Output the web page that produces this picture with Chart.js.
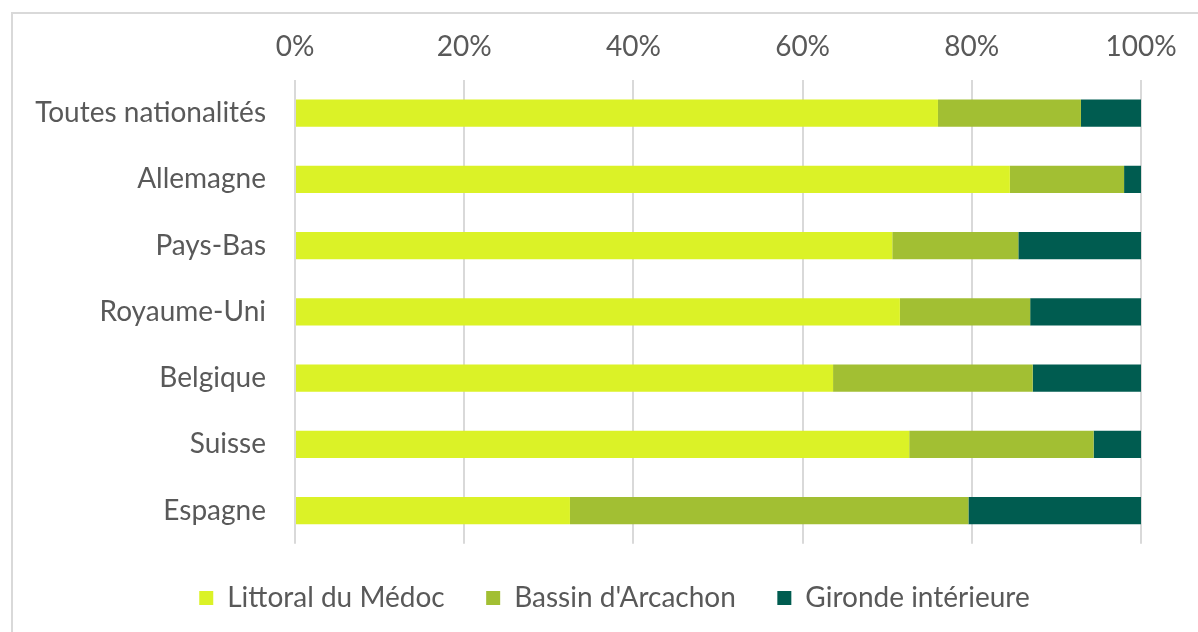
<!DOCTYPE html>
<html>
<head>
<meta charset="utf-8">
<script src="https://cdn.jsdelivr.net/npm/chart.js@4/dist/chart.umd.min.js"></script>
<style>
    html, body { margin: 0; padding: 0; background: #fff; overflow: hidden; }
    #frame { position: absolute; left: 11px; top: 12px; width: 1200px; height: 640px;
             border-left: 2px solid #d9d9d9; border-top: 2px solid #d9d9d9; }
    #wrap { position: absolute; left: 0; top: 0; width: 1198px; height: 632px; }
</style>
</head>
<body>
<div id="frame"></div>
<div id="wrap"><canvas id="chart"></canvas></div>
<script>
// Répartition des nuitées par zone, selon la nationalité
const categories = ['Toutes nationalités', 'Allemagne', 'Pays-Bas', 'Royaume-Uni', 'Belgique', 'Suisse', 'Espagne'];
const medoc = [76.0, 84.5, 70.6, 71.5, 63.6, 72.6, 32.5];
const arcachon = [16.9, 13.5, 14.9, 15.4, 23.6, 21.8, 47.1];
const gironde = [7.1, 2.0, 14.5, 13.1, 12.8, 5.6, 20.4];
const xTicks = [0, 20, 40, 60, 80, 100];

const textColor = '#595959';
const fontFamily = 'Lato, "Open Sans", sans-serif';
const fontSize = 28;

const ctx = document.getElementById('chart').getContext('2d');
new Chart(ctx, {
    type: 'bar',
    data: {
        labels: categories,
        datasets: [
            { label: 'Littoral du Médoc', data: medoc, backgroundColor: '#dbf227' },
            { label: "Bassin d'Arcachon", data: arcachon, backgroundColor: '#a2bf33' },
            { label: 'Gironde intérieure', data: gironde, backgroundColor: '#005c50' }
        ]
    },
    options: {
        indexAxis: 'y',
        responsive: true,
        maintainAspectRatio: false,
        animation: false,
        datasets: { bar: { barPercentage: 0.41, categoryPercentage: 1 } },
        layout: { padding: { left: 31, right: 0, top: 0, bottom: 10 } },
        scales: {
            x: {
                position: 'top',
                stacked: true,
                min: 0,
                max: 100,
                afterBuildTicks: scale => { scale.ticks = xTicks.map(v => ({ value: v })); },
                afterFit: scale => { scale.height = 80; scale.paddingRight = 57; scale.paddingLeft = 0; },
                grid: { color: '#d9d9d9', lineWidth: 2, drawTicks: false },
                border: { display: false },
                ticks: {
                    padding: 16,
                    color: textColor,
                    font: { family: fontFamily, size: fontSize },
                    callback: v => v + '%'
                }
            },
            y: {
                stacked: true,
                afterFit: scale => { scale.width = 264; },
                grid: { display: false, drawTicks: false },
                border: { display: false },
                ticks: {
                    padding: 29,
                    color: textColor,
                    font: { family: fontFamily, size: fontSize }
                }
            }
        },
        plugins: {
            tooltip: { enabled: false },
            legend: {
                position: 'bottom',
                title: { display: true, text: '', font: { size: 1 }, padding: { top: 19, bottom: 0 } },
                labels: {
                    boxWidth: 14,
                    boxHeight: 14,
                    padding: 20,
                    color: textColor,
                    font: { family: fontFamily, size: fontSize },
                    generateLabels: chart => {
                        const items = Chart.defaults.plugins.legend.labels.generateLabels(chart);
                        items.forEach((it, i) => {
                            it.lineWidth = 0;
                            if (i < items.length - 1) it.text = it.text + '   ';
                        });
                        return items;
                    }
                }
            }
        }
    }
});
</script>
</body>
</html>
